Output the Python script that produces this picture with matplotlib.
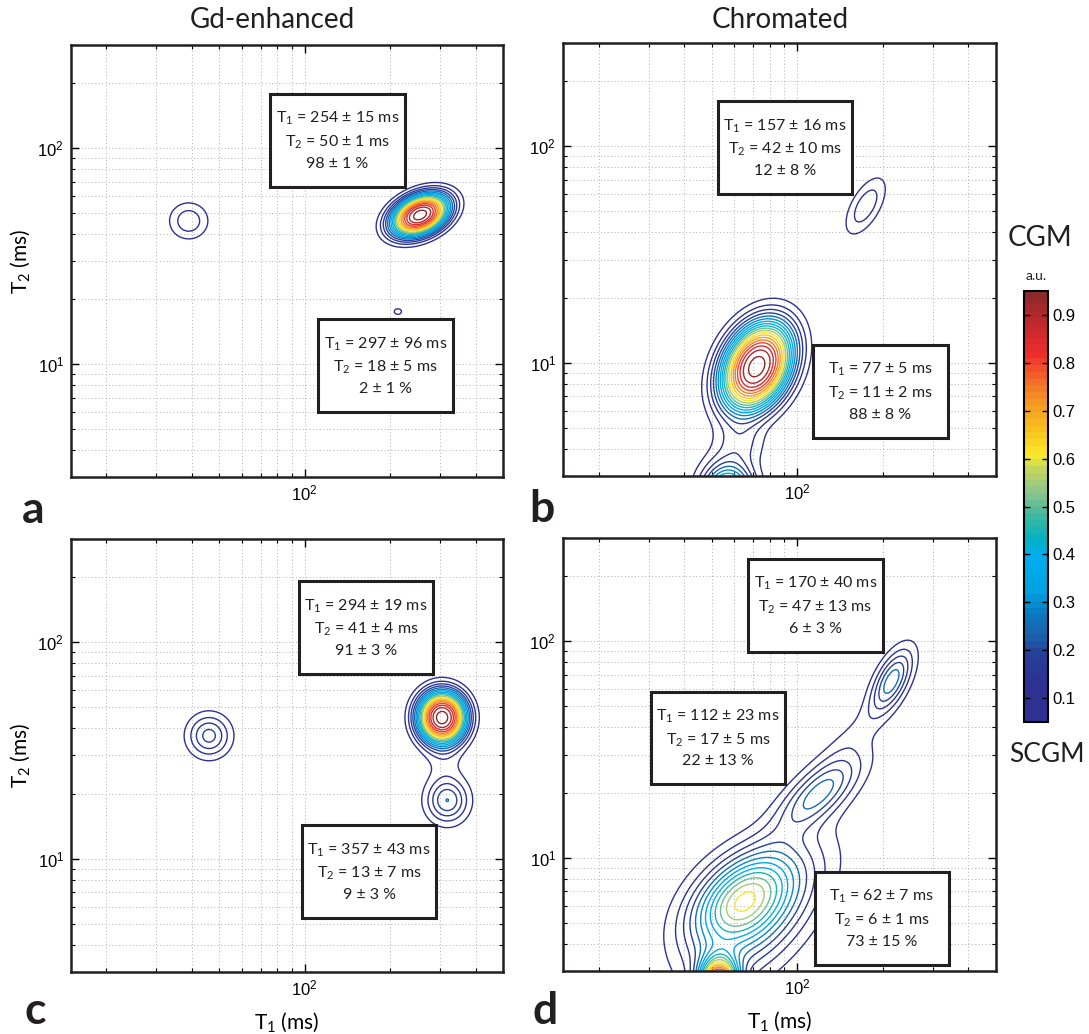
import numpy as np
import matplotlib
matplotlib.use('Agg')
import matplotlib.pyplot as plt
from matplotlib.colors import LinearSegmentedColormap, Normalize
from matplotlib.ticker import NullFormatter
from matplotlib.patches import Rectangle
import matplotlib.cm as cm

plt.rcParams['font.family'] = ['Lato', 'DejaVu Sans']
plt.rcParams['mathtext.fontset'] = 'custom'
plt.rcParams['mathtext.rm'] = 'Lato'
plt.rcParams['mathtext.it'] = 'Lato:italic'

# T1-T2 grid (ms)
t1_lim = (15, 500)
t2_lim = (3, 300)
t1_grid = np.logspace(np.log10(t1_lim[0]), np.log10(t1_lim[1]), 300)
t2_grid = np.logspace(np.log10(t2_lim[0]), np.log10(t2_lim[1]), 300)

# peaks: (T1 centre, T2 centre, amplitude, width T1 [dec], width T2 [dec],
#         correlation, shape exponent)
peaks_a = [(255, 49, 0.97, 0.072, 0.070, 0.35, 1.3),
           (39, 46, 0.14, 0.047, 0.058, 0.0, 1.0),
           (213, 17.5, 0.055, 0.03, 0.03, 0.0, 1.0)]
peaks_b = [(72, 9.6, 0.97, 0.09, 0.147, 0.3, 1.3),
           (57, 2.4, 0.62, 0.06, 0.10, 0.0, 1.0),
           (63, 4.3, 0.10, 0.06, 0.07, 0.0, 1.0),
           (174, 53, 0.14, 0.048, 0.09, 0.6, 1.0)]
peaks_c = [(305, 45, 0.97, 0.061, 0.086, 0.0, 1.3),
           (318, 18.6, 0.25, 0.05, 0.07, 0.0, 1.0),
           (310, 29, 0.06, 0.05, 0.07, 0.0, 1.0),
           (46, 37, 0.22, 0.051, 0.067, 0.0, 1.0)]
peaks_d = [(215, 66, 0.28, 0.05, 0.10, 0.6, 1.0),
           (120, 20, 0.27, 0.10, 0.12, 0.7, 1.0),
           (160, 38, 0.05, 0.09, 0.12, 0.8, 1.0),
           (62, 6.5, 0.45, 0.12, 0.15, 0.45, 1.0),
           (53, 2.6, 0.95, 0.045, 0.08, 0.0, 1.0),
           (75, 5.5, 0.25, 0.15, 0.22, 0.6, 1.0)]

# text box contents
box_text = {
    'a': ['T$_1$ = 254 ± 15 ms\nT$_2$ = 50 ± 1 ms\n98 ± 1 %',
          'T$_1$ = 297 ± 96 ms\nT$_2$ = 18 ± 5 ms\n2 ± 1 %'],
    'b': ['T$_1$ = 157 ± 16 ms\nT$_2$ = 42 ± 10 ms\n12 ± 8 %',
          'T$_1$ = 77 ± 5 ms\nT$_2$ = 11 ± 2 ms\n88 ± 8 %'],
    'c': ['T$_1$ = 294 ± 19 ms\nT$_2$ = 41 ± 4 ms\n91 ± 3 %',
          'T$_1$ = 357 ± 43 ms\nT$_2$ = 13 ± 7 ms\n9 ± 3 %'],
    'd': ['T$_1$ = 170 ± 40 ms\nT$_2$ = 47 ± 13 ms\n6 ± 3 %',
          'T$_1$ = 112 ± 23 ms\nT$_2$ = 17 ± 5 ms\n22 ± 13 %',
          'T$_1$ = 62 ± 7 ms\nT$_2$ = 6 ± 1 ms\n73 ± 15 %'],
}
# box extents in axes fraction: (left, right, bottom, top)
box_pos = {
    'a': [(0.461, 0.773, 0.671, 0.887), (0.572, 0.884, 0.150, 0.366)],
    'b': [(0.358, 0.667, 0.651, 0.866), (0.577, 0.889, 0.088, 0.303)],
    'c': [(0.528, 0.838, 0.688, 0.903), (0.535, 0.845, 0.125, 0.339)],
    'd': [(0.427, 0.739, 0.737, 0.952), (0.203, 0.513, 0.432, 0.644),
          (0.582, 0.891, 0.014, 0.229)],
}

# colormap
cb_vals = [0.05, 0.12, 0.19, 0.22, 0.27, 0.32, 0.40, 0.43, 0.48, 0.53, 0.58,
           0.61, 0.66, 0.71, 0.77, 0.82, 0.88, 0.95]
cb_cols = ['#2e3192', '#2e3192', '#263f98', '#1b5ea9', '#0a78be', '#00a2e0',
           '#00aeef', '#00b2c0', '#3fb8a2', '#8bc58c', '#c4d75c', '#fbe92a',
           '#f9c21c', '#f6a021', '#f26a2a', '#ee2f2b', '#c8272e', '#8b2a2a']
stops = np.clip((np.array(cb_vals) - 0.05) / 0.9, 0, 1)
stops[0], stops[-1] = 0.0, 1.0
cmap = LinearSegmentedColormap.from_list('cm', list(zip(stops, cb_cols)), N=64)
norm = Normalize(0.05, 0.95)
levels = np.arange(0.05, 0.951, 0.05)


def surface(peaks):
    lx, ly = np.meshgrid(np.log10(t1_grid), np.log10(t2_grid))
    z = np.zeros_like(lx)
    for t1, t2, amp, sx, sy, r, p in peaks:
        dx = (lx - np.log10(t1)) / sx
        dy = (ly - np.log10(t2)) / sy
        q = (dx * dx - 2 * r * dx * dy + dy * dy) / (1 - r * r)
        z += amp * np.exp(-(q / 2) ** p)
    return z


W, H = 1089, 1034
fig = plt.figure(figsize=(W / 100, H / 100), dpi=100)


def px_axes(left, top, w, h):
    return fig.add_axes([left / W, 1 - (top + h) / H, w / W, h / H])


panels = {
    'a': (px_axes(71, 45, 432, 432), peaks_a),
    'b': (px_axes(563, 43, 433, 433), peaks_b),
    'c': (px_axes(71, 539, 432, 433), peaks_c),
    'd': (px_axes(563, 538, 433, 433), peaks_d),
}

for key, (ax, peaks) in panels.items():
    z = surface(peaks)
    ax.contour(t1_grid, t2_grid, z, levels=levels, cmap=cmap, norm=norm,
               linewidths=1.0)
    ax.set_xscale('log')
    ax.set_yscale('log')
    ax.set_xlim(t1_lim)
    ax.set_ylim(t2_lim)
    ax.xaxis.set_minor_formatter(NullFormatter())
    ax.yaxis.set_minor_formatter(NullFormatter())
    ax.grid(True, which='both', linestyle=(0, (1, 2.5)), color='#b0b0b0',
            linewidth=0.7)
    ax.tick_params(which='both', direction='in', top=True, right=True,
                   labelsize=12, labelfontfamily='Liberation Sans', pad=5)
    ax.tick_params(which='major', length=6, width=1)
    ax.tick_params(which='minor', length=3, width=0.8)
    for s in ax.spines.values():
        s.set_linewidth(1.8)
        s.set_color('#231f20')

    for (x0, x1, y0, y1), txt in zip(box_pos[key], box_text[key]):
        ax.add_patch(Rectangle((x0, y0), x1 - x0, y1 - y0, transform=ax.transAxes,
                               facecolor='white', edgecolor='#231f20',
                               linewidth=2.2, zorder=5))
        ax.text((x0 + x1) / 2, (y0 + y1) / 2, txt, transform=ax.transAxes,
                ha='center', va='center', fontsize=11.5, linespacing=1.5,
                color='#231f20', zorder=6)

# titles and labels
fig.text(272 / W, 1 - 20 / H, 'Gd-enhanced', ha='center', va='center',
         fontsize=20, color='#231f20')
fig.text(780 / W, 1 - 20 / H, 'Chromated', ha='center', va='center',
         fontsize=20, color='#231f20')
for key, (x, y) in {'a': (22, 523), 'b': (529, 522), 'c': (25, 1024),
                    'd': (533, 1024)}.items():
    fig.text(x / W, 1 - y / H, key, ha='left', va='baseline', fontsize=32,
             fontweight='bold', color='#231f20')

panels['a'][0].set_ylabel('T$_2$ (ms)', fontsize=15, labelpad=4)
panels['c'][0].set_ylabel('T$_2$ (ms)', fontsize=15, labelpad=4)
panels['c'][0].set_xlabel('T$_1$ (ms)', fontsize=15, labelpad=8)
panels['d'][0].set_xlabel('T$_1$ (ms)', fontsize=15, labelpad=8)

# colorbar
cax = px_axes(1024, 291, 24, 431)
cb = fig.colorbar(cm.ScalarMappable(norm=norm, cmap=cmap), cax=cax,
                  ticks=np.arange(0.1, 0.91, 0.1))
cb.ax.set_yticklabels([f'{v:.1f}' for v in np.arange(0.1, 0.91, 0.1)])
cb.ax.tick_params(direction='in', length=4, width=1, labelsize=12,
                  labelfontfamily='Liberation Sans', left=True, right=True,
                  labelright=True, labelleft=False)
cb.outline.set_linewidth(1.5)
fig.text(1036 / W, 1 - 282 / H, 'a.u.', ha='center', va='bottom', fontsize=10,
         color='#231f20')
fig.text(1040 / W, 1 - 238 / H, 'CGM', ha='center', va='center', fontsize=20,
         color='#231f20')
fig.text(1047 / W, 1 - 755 / H, 'SCGM', ha='center', va='center', fontsize=19,
         color='#231f20')

fig.savefig('out.png', dpi=100)
